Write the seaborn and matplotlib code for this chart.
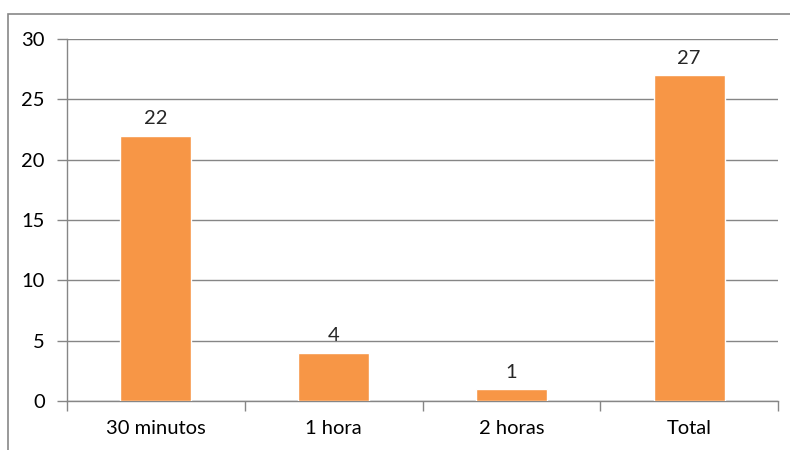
import matplotlib
matplotlib.use("Agg")
import matplotlib.pyplot as plt
import seaborn as sns
import pandas as pd
from matplotlib.patches import Rectangle

categories = ["30 minutos", "1 hora", "2 horas", "Total"]
values = [22, 4, 1, 27]
y_ticks = [0, 5, 10, 15, 20, 25, 30]

sns.set_theme(style="white")
plt.rcParams["font.family"] = ["Lato", "DejaVu Sans"]

df = pd.DataFrame({"categoria": categories, "valor": values})

fig = plt.figure(figsize=(7.9, 4.5), dpi=100)
ax = fig.add_axes([67 / 790, 49 / 450, (778 - 67) / 790, (401 - 39) / 450])

grid_color = "#868686"
fs = 14.5
sns.barplot(data=df, x="categoria", y="valor", color="#F79646", width=0.4,
            saturation=1, ax=ax, zorder=3)

ax.set_ylim(0, 30)
ax.set_xlim(-0.5, len(categories) - 0.5)
ax.set_yticks(y_ticks)
ax.yaxis.grid(True, color=grid_color, linewidth=1)
ax.set_axisbelow(True)
ax.set_xlabel("")
ax.set_ylabel("")

for s in ["top", "right"]:
    ax.spines[s].set_visible(False)
for s in ["left", "bottom"]:
    ax.spines[s].set_color(grid_color)
    ax.spines[s].set_linewidth(1)

ax.tick_params(axis="y", length=7, width=1, color=grid_color, pad=9,
               labelsize=fs, labelcolor="black", left=True)
ax.tick_params(axis="x", which="major", length=0, pad=14,
               labelsize=fs, labelcolor="black")
ax.set_xticks([i - 0.5 for i in range(len(categories) + 1)], minor=True)
ax.tick_params(axis="x", which="minor", length=7, width=1, color=grid_color,
               bottom=True)

for c in ax.containers:
    ax.bar_label(c, labels=[str(v) for v in values], padding=6, fontsize=fs)

# outer chart border, cut by the image edges
fig.patches.append(Rectangle((8 / 790, -0.1), 1.0, 1 - 14 / 450 + 0.1,
                             transform=fig.transFigure, fill=False,
                             edgecolor="#878787", linewidth=1.2))

fig.savefig("out.png", dpi=100)
